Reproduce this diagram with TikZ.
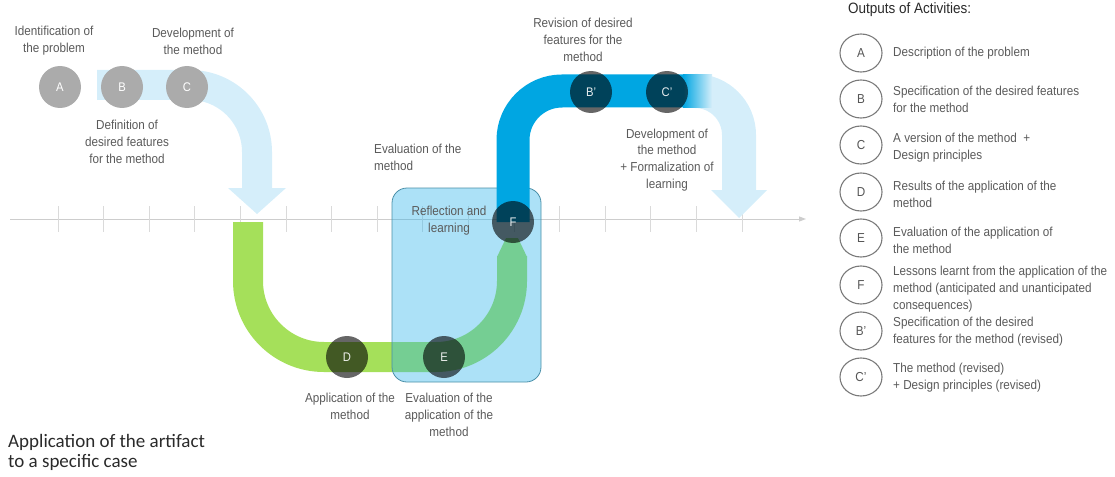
\documentclass[tikz,border=0pt]{standalone}
\usepackage{fontspec}
\setmainfont{Liberation Sans}[FakeStretch=0.9]
\newfontfamily\casefont{Carlito}
\usetikzlibrary{arrows.meta,shapes.geometric}
\definecolor{paleblue}{HTML}{D5EEFA}
\definecolor{bandblue}{HTML}{00A6E2}
\definecolor{bandgreen}{HTML}{A5E05A}
\definecolor{boxblue}{HTML}{2FB3EA}
\definecolor{boxedge}{HTML}{4A8FA8}
\definecolor{labelgray}{HTML}{5A5A5A}
\definecolor{axisgray}{HTML}{CDCDCD}
\definecolor{tickgray}{HTML}{DADADA}
\definecolor{stepgray}{HTML}{ABABAB}
\definecolor{legendedge}{HTML}{7A7A7A}
\definecolor{darktext}{HTML}{2A2A2A}
\begin{document}
\begin{tikzpicture}[x=1pt,y=-1pt,
  lbl/.style={inner sep=0pt, align=center, text=labelgray, font=\fontsize{13}{16.8}\selectfont},
  lgtext/.style={inner sep=0pt, anchor=west, align=left, text=labelgray, font=\fontsize{13}{17}\selectfont},
  stepcircle/.style={circle, minimum size=42pt, inner sep=0pt, fill=stepgray, text=white, font=\fontsize{12.5}{14}\selectfont},
  darkcircle/.style={circle, minimum size=42pt, inner sep=0pt, fill=black, fill opacity=0.6, text opacity=0.9, text=white, font=\fontsize{12.5}{14}\selectfont},
  legcircle/.style={ellipse, draw=legendedge, line width=1.1pt, minimum width=42pt, minimum height=38pt, inner sep=0pt, text=darktext!80, font=\fontsize{13}{15}\selectfont},
  band/.style={line width=#1, line cap=butt, line join=miter},
]
\useasboundingbox (0,0) rectangle (1115,476);

% time axis with ticks
\coordinate (axs) at (10,219);
\coordinate (axe) at (806,219);
\draw[axisgray, line width=1pt, -{Triangle[length=7pt,width=5pt]}] (axs) -- (axe);
\foreach \k in {0,...,15} {
  \draw[tickgray, line width=0.8pt] ({58+45.6*\k},206) -- ({58+45.6*\k},232);
}

% first cycle: design (pale arrow)
\draw[paleblue, band=30pt, rounded corners=67pt] (97,85) -- (257,85) -- (257,189);
\fill[paleblue] (228,188) -- (286,188) -- (257,214) -- cycle;

\node[stepcircle] (A) at (60,87) {A};
\node[stepcircle] (B) at (122,87) {B};
\node[stepcircle] (C) at (187,87) {C};

% application band
\draw[bandgreen, band=30pt, rounded corners=76pt] (248,222) -- (248,357) -- (512,357) -- (512,256);
\fill[bandgreen] (497,257) -- (506,238) -- (518,238) -- (527,257) -- cycle;

\node[darkcircle] (D) at (347,357) {D};

% evaluation box
\node[draw=boxedge, line width=0.8pt, fill=boxblue, fill opacity=0.4, rounded corners=15pt,
      minimum width=149pt, minimum height=194pt, inner sep=0pt] (box) at (466.5,285) {};

% second cycle: revision
\draw[paleblue, band=34pt, rounded corners=44pt] (698,91) -- (739,91) -- (739,191);
\fill[paleblue] (711,190) -- (767,190) -- (739,218) -- cycle;
\draw[bandblue, band=33pt, rounded corners=49pt] (513,222) -- (513,91) -- (684,91);
\shade[left color=bandblue, right color=paleblue] (683,74.5) rectangle (712,107.5);

\node[darkcircle] (E) at (444,357) {E};
\node[darkcircle] (F) at (513,222) {F};
\node[darkcircle] (Bp) at (591,92) {B'};
\node[darkcircle] (Cp) at (667,92) {C'};

% activity labels
\node[lbl] (tA) at (54,41) {Identification of\\the problem};
\node[lbl] (tC) at (193,41) {Development of\\the method};
\node[lbl] (tB) at (127,142) {Definition of\\desired features\\for the method};
\node[lbl, anchor=west, align=left] (tEv) at (374,157) {Evaluation of the\\method};
\node[lbl] (tF) at (449,221) {Reflection and\\learning};
\node[lbl] (tBp) at (583,40) {Revision of desired\\features for the\\method};
\node[lbl] (tCp) at (667,160) {Development of\\the method\\+ Formalization of\\learning};
\node[lbl] (tD) at (350,406) {Application of the\\method};
\node[lbl] (tE) at (449,415) {Evaluation of the\\application of the\\method};

\node[inner sep=0pt, anchor=west, align=left, text=darktext, font=\casefont\fontsize{19}{20}\selectfont] (case) at (8,452) {Application of the artifact\\to a specific case};

% legend of outputs
\node[inner sep=0pt, anchor=west, text=darktext, font=\fontsize{15}{17}\selectfont] (title) at (848,10) {Outputs of Activities:};

\node[legcircle] (lA) at (861,53) {A};
\node[legcircle] (lB) at (861,99) {B};
\node[legcircle] (lC) at (861,145) {C};
\node[legcircle] (lD) at (861,192) {D};
\node[legcircle] (lE) at (861,238) {E};
\node[legcircle] (lF) at (861,285) {F};
\node[legcircle] (lBp) at (861,331) {B'};
\node[legcircle] (lCp) at (861,377) {C'};

\node[lgtext] (dA) at (893,53) {Description of the problem};
\node[lgtext] (dB) at (893,99.5) {Specification of the desired features\\for the method};
\node[lgtext] (dC) at (893,147.5) {A version of the method\ \ +\\Design principles};
\node[lgtext] (dD) at (893,194.5) {Results of the application of the\\method};
\node[lgtext] (dE) at (893,240.5) {Evaluation of the application of\\the method};
\node[lgtext] (dF) at (893,289) {Lessons learnt from the application of the\\method (anticipated and unanticipated\\consequences)};
\node[lgtext] (dBp) at (893,331.5) {Specification of the desired\\features for the method (revised)};
\node[lgtext] (dCp) at (893,377.5) {The method (revised)\\+ Design principles (revised)};
\end{tikzpicture}
\end{document}
